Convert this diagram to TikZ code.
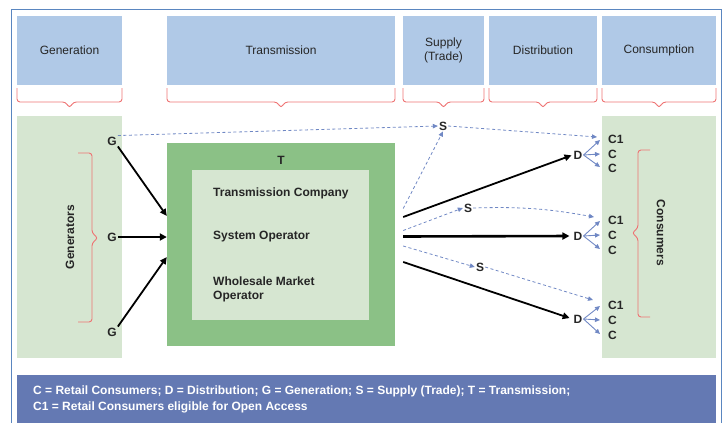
\documentclass[tikz,border=0pt]{standalone}
\usepackage{fontspec}
\setmainfont{Liberation Sans}
\usetikzlibrary{arrows.meta}
\definecolor{hdr}{HTML}{B0C9E7}
\definecolor{lgreen}{HTML}{D6E6D1}
\definecolor{tgreen}{HTML}{8BC186}
\definecolor{bred}{HTML}{EE7373}
\definecolor{dblue}{HTML}{7088C4}
\definecolor{legbg}{HTML}{6479B3}
\definecolor{frame}{HTML}{5A86C0}
\definecolor{txt}{HTML}{262626}
\tikzset{
  hdrbox/.style={fill=hdr, inner sep=0pt, text=txt, align=center, font=\fontsize{12}{14}\selectfont},
  lbl/.style={inner sep=1pt, text=txt, font=\bfseries\fontsize{12}{14}\selectfont},
  brace/.style={draw=bred, line width=0.9pt, rounded corners=3pt},
  blk/.style={draw=black, line width=1.8pt, -{Triangle[length=7pt,width=6.5pt]}},
  blkthick/.style={draw=black, line width=2.6pt, -{Triangle[length=7pt,width=7pt]}},
  dsh/.style={draw=dblue, line width=0.8pt, dash pattern=on 3pt off 2.5pt, -{Triangle[length=5pt,width=4.5pt]}},
  sm/.style={draw=dblue, line width=0.9pt, -{Triangle[length=5pt,width=4.5pt]}},
}
\begin{document}
\begin{tikzpicture}[x=1pt,y=-1pt]
\useasboundingbox (0,0) rectangle (723,423);
% outer frame
\draw[frame, line width=0.9pt] (11,423) -- (11,9) -- (721,9) -- (721,423);
% headers
\node[hdrbox, minimum width=105pt, minimum height=69pt] (hGen) at (69.5,50) {Generation};
\node[hdrbox, minimum width=228pt, minimum height=69pt] (hTra) at (281,50) {Transmission};
\node[hdrbox, minimum width=81pt, minimum height=69pt] (hSup) at (443.5,50) {Supply\\(Trade)};
\node[hdrbox, minimum width=108pt, minimum height=69pt] (hDis) at (543,50) {Distribution};
\node[hdrbox, minimum width=114pt, minimum height=69pt] (hCon) at (659,50) {Consumption};
% header braces
\foreach \a/\b in {17/122, 167/395, 403/484, 489/597, 602/716}{
  \pgfmathsetmacro{\mid}{(\a+\b)/2}
  \draw[brace] (\a,88) -- (\a,102) -- (\mid-4,102) -- (\mid,108) -- (\mid+4,102) -- (\b,102) -- (\b,88);
}
% green side boxes
\node[fill=lgreen, inner sep=0pt, minimum width=105pt, minimum height=242pt] (genbox) at (69.5,237) {};
\node[fill=lgreen, inner sep=0pt, minimum width=114pt, minimum height=242pt] (conbox) at (659,237) {};
% T box
\node[fill=tgreen, inner sep=0pt, minimum width=228pt, minimum height=203pt] (T) at (281,244.5) {};
\node[fill=lgreen, inner sep=0pt, minimum width=177pt, minimum height=150pt] (Tin) at (280.5,245) {};
\node[lbl] (Tl) at (281,160) {T};
\node[lbl, anchor=west] (tc) at (212,193) {Transmission Company};
\node[lbl, anchor=west] (so) at (212,237) {System Operator};
\node[lbl, anchor=west, align=left] (wmo) at (212,289) {Wholesale Market\\Operator};
% generators
\node[lbl] (G1) at (112,141) {G};
\node[lbl] (G2) at (112,237) {G};
\node[lbl] (G3) at (112,332) {G};
\node[lbl, rotate=90] (gens) at (70,237) {Generators};
\draw[brace] (78,153) -- (92,153) -- (92,233) -- (98,238) -- (92,243) -- (92,322) -- (78,322);
% consumers brace
\node[lbl, rotate=-90] (cons) at (661,233) {Consumers};
\draw[brace] (650,150) -- (638,150) -- (638,228) -- (632,233) -- (638,238) -- (638,317) -- (650,317);
% S and D nodes
\node[lbl] (S1) at (443,126) {S};
\node[lbl] (S2) at (468,208) {S};
\node[lbl] (S3) at (480,267) {S};
\node[lbl] (D1) at (578,155) {D};
\node[lbl] (D2) at (578,236) {D};
\node[lbl] (D3) at (578,319) {D};
% C nodes
\node[lbl, anchor=west] (C11) at (607,139) {C1};
\node[lbl, anchor=west] (C12) at (607,154) {C};
\node[lbl, anchor=west] (C13) at (607,168) {C};
\node[lbl, anchor=west] (C21) at (607,220) {C1};
\node[lbl, anchor=west] (C22) at (607,235) {C};
\node[lbl, anchor=west] (C23) at (607,250) {C};
\node[lbl, anchor=west] (C31) at (607,305) {C1};
\node[lbl, anchor=west] (C32) at (607,320) {C};
\node[lbl, anchor=west] (C33) at (607,335) {C};
% black arrows left
\draw[blk] (G1.south east) -- ([yshift=28.5pt]T.west);
\draw[blkthick] (G2.east) -- ([yshift=7.5pt]T.west);
\draw[blk] (G3.north east) -- ([yshift=-12.5pt]T.west);
% black arrows right
\draw[blk, shorten >=1pt] ([xshift=8pt,yshift=27.5pt]T.east) -- (D1.west);
\draw[blkthick, shorten >=3pt] ([xshift=8pt,yshift=8pt]T.east) -- (D2.west);
\draw[blk, shorten >=3pt] ([xshift=8pt,yshift=-17.5pt]T.east) -- (D3.west);
% dashed
\draw[dsh] (G1.north east) -- (S1.west);
\draw[dsh] (S1.east) -- ([xshift=-10pt,yshift=2pt]C11.west);
\draw[dsh] ([xshift=8pt,yshift=36pt]T.east) -- (S1.south);
\draw[dsh] ([xshift=8pt,yshift=14pt]T.east) -- (S2.west);
\draw[dsh] (S2.east) to[bend left=6] ([xshift=-13pt,yshift=3pt]C21.west);
\draw[dsh] ([xshift=8pt,yshift=-1.5pt]T.east) -- (S3.west);
\draw[dsh] (S3.east) -- ([xshift=-14pt,yshift=5pt]C31.west);
% small D->C arrows
\foreach \dn/\cn in {D1/C1, D2/C2, D3/C3}{
  \draw[sm] (\dn.east) -- ([xshift=-7pt,yshift=-1pt]\cn1.west);
  \draw[sm] (\dn.east) -- ([xshift=-7pt]\cn2.west);
  \draw[sm] (\dn.east) -- ([xshift=-7pt,yshift=1pt]\cn3.west);
}
% legend
\node[fill=legbg, inner sep=0pt, minimum width=699pt, minimum height=48pt] (legbox) at (366.5,399) {};
\node[anchor=north west, inner sep=0pt, text=white, align=left, font=\bfseries\fontsize{12}{16}\selectfont] (leg) at (33,385.5) {C = Retail Consumers; D = Distribution; G = Generation; S = Supply (Trade); T = Transmission;\\C1 = Retail Consumers eligible for Open Access};
\end{tikzpicture}
\end{document}
